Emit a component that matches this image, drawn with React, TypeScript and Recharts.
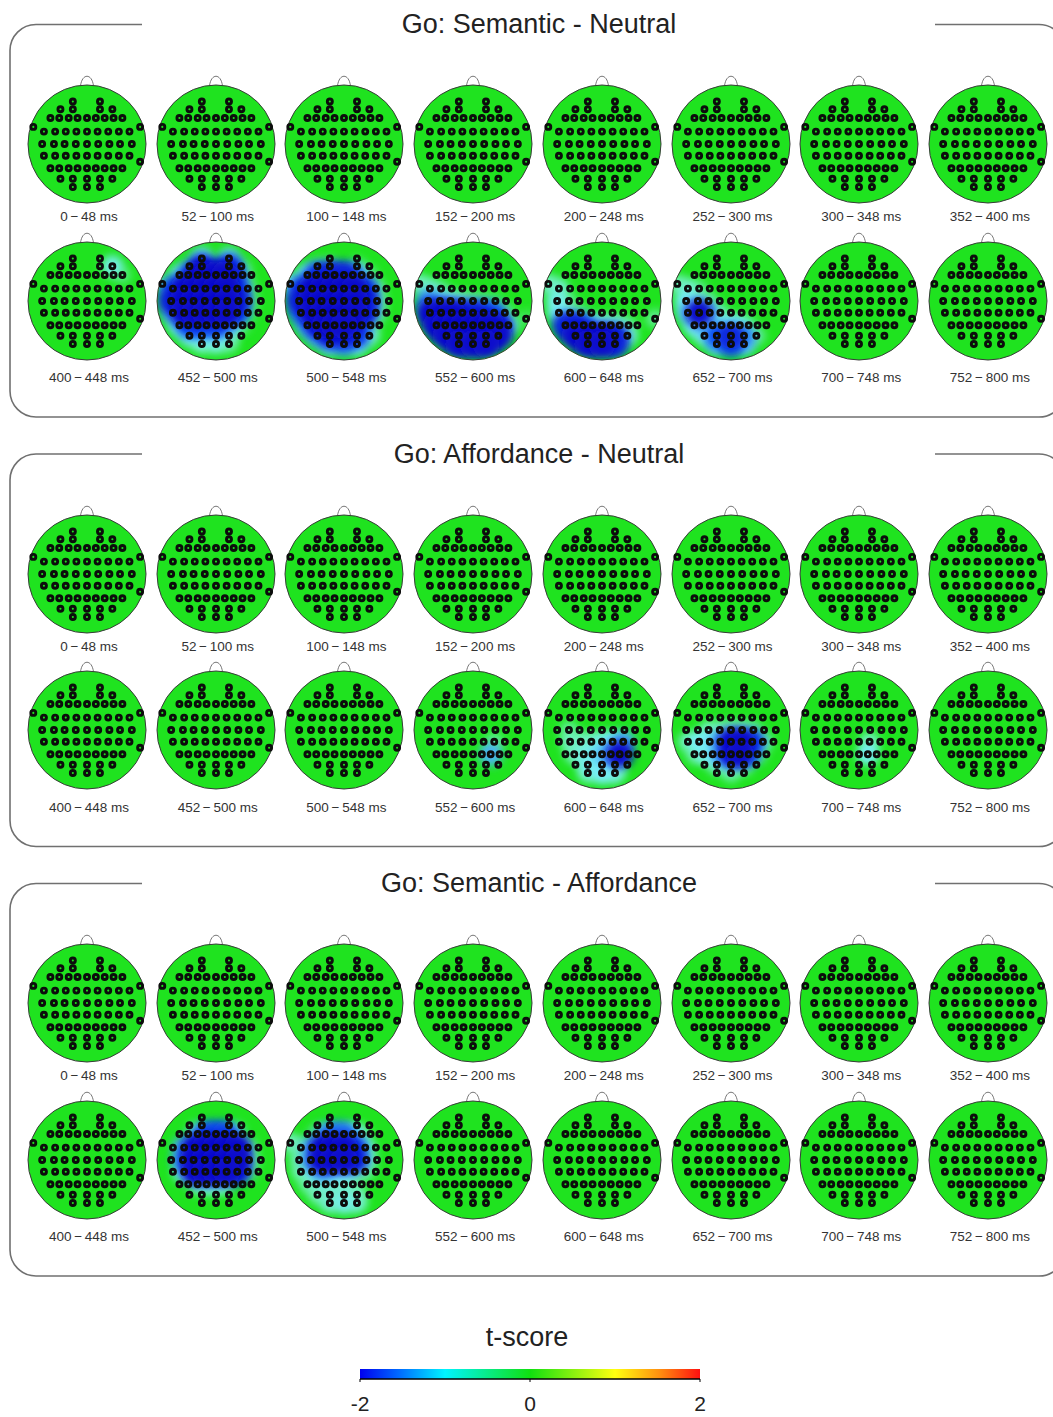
import { ScatterChart, Scatter, XAxis, YAxis, ComposedChart, ReferenceArea } from 'recharts'

type Electrode = { x: number; y: number; t: number }

const CONTRASTS = ['Go: Semantic - Neutral', 'Go: Affordance - Neutral', 'Go: Semantic - Affordance']

// 48 ms analysis windows, two rows of eight per contrast
const WINDOW_FROM = [0, 52, 100, 152, 200, 252, 300, 352, 400, 452, 500, 552, 600, 652, 700, 752]
const WINDOW_TO = [48, 100, 148, 200, 248, 300, 348, 400, 448, 500, 548, 600, 648, 700, 748, 800]

// montage in head-radius units, y grows towards the back of the head
const ROW_Y = [-0.72, -0.59, -0.44, -0.29, -0.21, 0, 0.2, 0.3, 0.41, 0.59, 0.73]
const ROW_X = [
  [-0.24, 0.22],
  [-0.45, -0.24, 0.22, 0.43],
  [-0.62, -0.47, -0.31, -0.16, 0, 0.15, 0.3, 0.45, 0.6],
  [-0.91, 0.9],
  [-0.73, -0.54, -0.36, -0.18, 0, 0.18, 0.36, 0.54, 0.72],
  [-0.76, -0.56, -0.38, -0.19, 0, 0.19, 0.38, 0.56, 0.76],
  [-0.73, -0.54, -0.36, -0.18, 0, 0.18, 0.36, 0.54, 0.72],
  [0.9],
  [-0.62, -0.47, -0.31, -0.16, 0, 0.15, 0.3, 0.45, 0.6],
  [-0.45, -0.24, 0, 0.22, 0.43],
  [-0.24, 0, 0.22],
]

// t-scores per electrode (rows follow ROW_X); windows not listed are flat
const SN_400 = [
  [0, 0],
  [0, 0, 0, -0.9],
  [0, 0, 0, 0, 0, 0, 0, 0, -0.3],
  [0, 0],
  [0, 0, 0, 0, 0, 0, 0, 0, 0],
  [0, 0, 0, 0, 0, 0, 0, 0, 0],
  [0, 0, 0, 0, 0, 0, 0, 0, 0],
  [0],
  [0, 0, 0, 0, 0, 0, 0, 0, 0],
  [0, 0, 0, 0, 0],
  [0, 0, 0],
]
const SN_452 = [
  [-1.0, -0.9],
  [-0.3, -1.8, -1.7, -0.3],
  [-0.8, -1.4, -2, -2, -2, -2, -1.6, -0.5, 0],
  [-0.4, 0],
  [-1.5, -2, -2, -2, -2, -2, -1.6, -0.4, 0],
  [-1.8, -2, -2, -2, -2, -2, -1.8, -0.4, 0],
  [-1.2, -2, -2, -2, -2, -2, -1.5, -0.3, 0],
  [0],
  [-1.0, -1.5, -1.6, -1.4, -1.6, -1.2, -0.8, -0.2, 0],
  [-0.9, -1.0, -1.0, -0.6, 0],
  [-0.6, -0.7, -0.4],
]
const SN_500 = [
  [0, 0],
  [-0.3, -0.4, -0.3, 0],
  [-1.0, -1.6, -1.8, -1.8, -1.8, -1.4, -0.8, -0.2, 0],
  [-0.9, 0],
  [-1.6, -2, -2, -2, -2, -2, -1.6, -0.5, 0],
  [-1.8, -2, -2, -2, -2, -2, -1.8, -0.6, 0],
  [-1.4, -2, -2, -2, -2, -2, -1.8, -0.6, 0],
  [0],
  [-1.2, -1.8, -2, -2, -2, -1.8, -1.2, -0.4, 0],
  [-1.2, -1.8, -1.8, -1.6, -0.7],
  [-1.1, -1.3, -1.0],
]
const SN_552 = [
  [0, 0],
  [0, 0, 0, 0],
  [0, 0, 0, 0, 0, 0, 0, 0, 0],
  [-0.6, 0],
  [-0.7, -0.3, 0, 0, 0, 0, 0, 0, 0],
  [-1.3, -1.1, -0.9, -0.6, -0.4, -0.3, -0.2, 0, 0],
  [-2, -2, -2, -1.8, -1.8, -1.6, -1.4, -0.4, 0],
  [-0.2],
  [-2, -2, -2, -2, -2, -2, -2, -1.8, -0.8],
  [-2, -2, -2, -2, -2],
  [-2, -2, -2],
]
const SN_600 = [
  [0, 0],
  [0, 0, 0, 0],
  [0, 0, 0, 0, 0, 0, 0, 0, 0],
  [-0.6, 0],
  [-0.7, 0, 0, 0, 0, 0, 0, 0, 0],
  [-0.9, -0.3, 0, 0, 0, 0, 0, 0, 0],
  [-1.0, -0.6, -0.3, 0, 0, 0, 0, 0, 0],
  [-0.4],
  [-1.8, -1.8, -1.4, -1.0, -0.8, -0.8, -0.6, -0.3, 0],
  [-2, -2, -2, -1.8, -0.8],
  [-2, -2, -1.8],
]
const SN_652 = [
  [0, 0],
  [0, 0, 0, 0],
  [0, 0, 0, 0, 0, 0, 0, 0, 0],
  [-0.5, 0],
  [-0.7, -0.3, 0, 0, 0, 0, 0, 0, 0],
  [-1.0, -0.8, -0.4, 0, 0, 0, 0, 0, 0],
  [-1.1, -2, -1.1, -0.4, 0, 0, 0, 0, 0],
  [0],
  [-1.0, -1.1, -1.0, -0.8, -1.0, -0.8, -0.3, 0, 0],
  [-0.8, -1.5, -1.8, -1.3, -0.4],
  [-1.1, -1.6, -1.1],
]
const AN_552 = [
  [0, 0],
  [0, 0, 0, 0],
  [0, 0, 0, 0, 0, 0, 0, 0, 0],
  [0, 0],
  [0, 0, 0, 0, 0, 0, 0, 0, 0],
  [0, 0, 0, 0, 0, 0, 0, 0, 0],
  [0, 0, 0, 0, 0, 0, -0.4, 0, 0],
  [0],
  [0, 0, 0, 0, 0, 0, -1.2, 0, 0],
  [0, 0, 0, 0, 0],
  [0, 0, 0],
]
const AN_600 = [
  [0, 0],
  [0, 0, 0, 0],
  [0, 0, 0, 0, 0, 0, 0, 0, 0],
  [0, 0],
  [0, 0, 0, 0, 0, 0, 0, 0, 0],
  [0, -0.4, 0, 0, 0, 0, 0, 0, 0],
  [0, -0.6, -0.6, -0.6, -0.8, -1.0, -1.2, 0, 0],
  [0],
  [0, -0.6, -0.8, -0.9, -1.1, -1.2, -2, 0, 0],
  [0, -0.9, -1.0, -0.8, 0],
  [-0.6, -1.0, -0.8],
]
const AN_652 = [
  [0, 0],
  [0, 0, 0, 0],
  [0, 0, 0, 0, 0, 0, 0, 0, 0],
  [0, 0],
  [0, 0, 0, 0, 0, 0, 0, 0, 0],
  [0, 0, -0.5, -0.5, -0.6, -0.6, -0.4, 0, 0],
  [-0.6, -1.0, -1.0, -1.2, -2, -2, -1.6, -0.6, 0],
  [0],
  [-0.4, -0.8, -1.0, -1.2, -1.8, -2, -1.4, -0.4, 0],
  [0, -0.6, -0.8, -0.6, 0],
  [0, -0.4, 0],
]
const AN_700 = [
  [0, 0],
  [0, 0, 0, 0],
  [0, 0, 0, 0, 0, 0, 0, 0, 0],
  [0, 0],
  [0, 0, 0, 0, 0, 0, 0, 0, 0],
  [0, 0, 0, 0, 0, 0, 0, 0, 0],
  [0, 0, 0, 0, 0, -0.6, 0, 0, 0],
  [0],
  [0, 0, 0, 0, 0, -1.0, 0, 0, 0],
  [0, 0, 0, 0, 0],
  [0, 0, 0],
]
const SA_452 = [
  [0, 0],
  [0, 0, 0, 0],
  [0, 0, -1.0, -1.6, -1.6, -1.6, -1.0, 0, 0],
  [0, 0],
  [0, -1.2, -2, -2, -2, -2, -2, -0.5, 0],
  [0, -1.3, -2, -2, -2, -2, -2, -0.6, 0],
  [0, -1.0, -2, -2, -2, -2, -1.8, -0.4, 0],
  [0],
  [0, 0, -0.6, -0.8, -0.8, -0.6, 0, 0, 0],
  [0, 0, 0, 0, 0],
  [0, 0, 0],
]
const SA_500 = [
  [0, 0],
  [0, 0, 0, 0],
  [0, -0.3, -1.2, -1.4, -1.4, -1.0, -0.4, 0, 0],
  [-0.6, 0],
  [-0.5, -1.2, -2, -2, -2, -1.6, -0.8, 0, 0],
  [-0.5, -1.2, -2, -2, -2, -1.8, -0.8, 0, 0],
  [-0.5, -0.8, -1.2, -1.0, -1.0, -0.6, -0.4, 0, 0],
  [0],
  [-0.4, -0.6, -0.7, -0.7, -0.6, -0.4, 0, 0, 0],
  [-0.5, -0.7, -0.7, -0.5, 0],
  [-0.7, -0.9, -0.7],
]

const MAPS: Record<number, number[][]>[] = [
  { 400: SN_400, 452: SN_452, 500: SN_500, 552: SN_552, 600: SN_600, 652: SN_652 },
  { 552: AN_552, 600: AN_600, 652: AN_652, 700: AN_700 },
  { 452: SA_452, 500: SA_500 },
]

const TSCORE_RANGE = [-2, 2]
const TSCORE_TICKS = [-2, 0, 2]

const FONT = '"Liberation Sans", Arial, sans-serif'
const GREEN = '#1fe31f'
const HEAD_R = 59
const BOX = 140
const D = BOX / 2 / HEAD_R

const T_STOPS = [-2, -1.5, -1, -0.5, 0]
const T_COLORS = ['#0808cc', '#0a58f6', '#78eef8', '#70f0b4', GREEN]

function hex(c: string) {
  return [1, 3, 5].map((i) => parseInt(c.slice(i, i + 2), 16))
}

function tColor(t: number) {
  const v = Math.max(-2, Math.min(0, t))
  let i = 0
  while (i < T_STOPS.length - 2 && v > T_STOPS[i + 1]) i++
  const f = (v - T_STOPS[i]) / (T_STOPS[i + 1] - T_STOPS[i])
  const a = hex(T_COLORS[i])
  const b = hex(T_COLORS[i + 1])
  return `rgb(${a.map((x, k) => Math.round(x + (b[k] - x) * f)).join(',')})`
}

function electrodes(values?: number[][]): Electrode[] {
  const out: Electrode[] = []
  ROW_Y.forEach((y, r) => ROW_X[r].forEach((x, c) => out.push({ x, y, t: values ? values[r][c] : 0 })))
  return out
}

const HeadShape = (p: any) => (
  <g>
    <path
      d={`M${p.cx - 6.5},${p.cy - HEAD_R + 1} C${p.cx - 5},${p.cy - HEAD_R - 12} ${p.cx + 5},${p.cy - HEAD_R - 12} ${p.cx + 6.5},${p.cy - HEAD_R + 1}`}
      fill="#fff"
      stroke="#777"
      strokeWidth={1}
    />
    <circle cx={p.cx} cy={p.cy} r={HEAD_R} fill={GREEN} />
  </g>
)

const OutlineShape = (p: any) => (
  <circle cx={p.cx} cy={p.cy} r={HEAD_R} fill="none" stroke="#3a3a3a" strokeWidth={1} />
)

const FieldShape = (p: any) => (
  <circle
    cx={p.cx}
    cy={p.cy}
    r={8 + 3 * Math.abs(p.payload.t)}
    fill={tColor(p.payload.t)}
    filter="url(#topoBlur)"
    clipPath="url(#topoClip)"
  />
)

const ElectrodeShape = (p: any) => (
  <circle cx={p.cx} cy={p.cy} r={2.5} fill="none" stroke="#0c0c0c" strokeWidth={2.9} />
)

function Topo({ values }: { values?: number[][] }) {
  const all = electrodes(values)
  const field = all.filter((e) => e.t < -0.1).sort((a, b) => b.t - a.t)
  return (
    <ScatterChart width={BOX} height={BOX} margin={{ top: 0, right: 0, bottom: 0, left: 0 }}>
      <XAxis type="number" dataKey="x" domain={[-D, D]} allowDataOverflow hide />
      <YAxis type="number" dataKey="y" domain={[-D, D]} allowDataOverflow reversed hide />
      <Scatter data={[{ x: 0, y: 0 }]} shape={HeadShape} isAnimationActive={false} />
      <Scatter data={field} shape={FieldShape} isAnimationActive={false} />
      <Scatter data={[{ x: 0, y: 0 }]} shape={OutlineShape} isAnimationActive={false} />
      <Scatter data={all} shape={ElectrodeShape} isAnimationActive={false} />
    </ScatterChart>
  )
}

const PANEL_DY = 429.5
const PANEL_TOP = 24.5
const PANEL_BOTTOM = 417
const FRAME_L = 10
const FRAME_R = 1065
const CORNER = 26
const COL_X0 = 87
const COL_DX = 128.7
const ROW_CY = [144, 300.5]
const LABEL_Y = [217, 378]

function framePath(p: number) {
  const t = PANEL_TOP + p * PANEL_DY
  const b = PANEL_BOTTOM + p * PANEL_DY
  const r = CORNER
  return (
    `M142,${t} H${FRAME_L + r} A${r},${r} 0 0 0 ${FRAME_L},${t + r} V${b - r} ` +
    `A${r},${r} 0 0 0 ${FRAME_L + r},${b} H${FRAME_R - r} A${r},${r} 0 0 0 ${FRAME_R},${b - r} ` +
    `V${t + r} A${r},${r} 0 0 0 ${FRAME_R - r},${t} H935`
  )
}

export default function App() {
  return (
    <div
      style={{
        position: 'absolute',
        left: 0,
        top: 0,
        width: 1053,
        height: 1417,
        background: '#fff',
        overflow: 'hidden',
        fontFamily: FONT,
      }}
    >
      <svg width={0} height={0} style={{ position: 'absolute' }}>
        <defs>
          <filter id="topoBlur" x="-60%" y="-60%" width="220%" height="220%">
            <feGaussianBlur stdDeviation={4} />
          </filter>
          <clipPath id="topoClip">
            <circle cx={BOX / 2} cy={BOX / 2} r={HEAD_R - 0.5} />
          </clipPath>
        </defs>
      </svg>

      <svg width={1053} height={1417} style={{ position: 'absolute', left: 0, top: 0 }}>
        {CONTRASTS.map((_, p) => (
          <path key={p} d={framePath(p)} fill="none" stroke="#707070" strokeWidth={1.6} />
        ))}
      </svg>

      {CONTRASTS.map((title, p) => (
        <div key={title}>
          <div
            style={{
              position: 'absolute',
              left: 239,
              width: 600,
              top: PANEL_TOP + p * PANEL_DY - 13.5,
              fontSize: 27,
              lineHeight: '27px',
              textAlign: 'center',
              color: '#222',
            }}
          >
            {title}
          </div>
          {WINDOW_FROM.map((from, w) => {
            const row = Math.floor(w / 8)
            const col = w % 8
            const cx = COL_X0 + col * COL_DX
            const cy = ROW_CY[row] + p * PANEL_DY
            return (
              <div key={from}>
                <div style={{ position: 'absolute', left: cx - BOX / 2, top: cy - BOX / 2 }}>
                  <Topo values={MAPS[p][from]} />
                </div>
                <div
                  style={{
                    position: 'absolute',
                    left: cx - 58,
                    width: 120,
                    top: LABEL_Y[row] + p * PANEL_DY - 7,
                    fontSize: 13.5,
                    lineHeight: '14px',
                    textAlign: 'center',
                    color: '#333',
                  }}
                >
                  {`${from}\u2009\u2212\u2009${WINDOW_TO[w]} ms`}
                </div>
              </div>
            )
          })}
        </div>
      ))}

      <div
        style={{
          position: 'absolute',
          left: 377,
          width: 300,
          top: 1324,
          fontSize: 27,
          lineHeight: '27px',
          textAlign: 'center',
          color: '#222',
        }}
      >
        t-score
      </div>
      <div style={{ position: 'absolute', left: 330, top: 1360 }}>
        <ComposedChart
          width={400}
          height={59}
          data={TSCORE_TICKS.map((t, i) => ({ t, v: i / 2 }))}
          margin={{ top: 9, right: 30, bottom: 0, left: 30 }}
        >
          <defs>
            <linearGradient id="jetGrad" x1="0" y1="0" x2="1" y2="0">
              <stop offset="0%" stopColor="#0000f0" />
              <stop offset="12%" stopColor="#0070ff" />
              <stop offset="25%" stopColor="#00f4ff" />
              <stop offset="50%" stopColor="#10e010" />
              <stop offset="75%" stopColor="#ffff10" />
              <stop offset="88%" stopColor="#ff9010" />
              <stop offset="100%" stopColor="#ff1010" />
            </linearGradient>
          </defs>
          <XAxis
            type="number"
            dataKey="t"
            domain={TSCORE_RANGE}
            ticks={TSCORE_TICKS}
            allowDataOverflow
            height={40}
            axisLine={{ stroke: '#000', strokeWidth: 1.5 }}
            tickLine={{ stroke: '#000' }}
            tickSize={3}
            tickMargin={14}
            tick={{ fontSize: 21, fill: '#222', fontFamily: FONT }}
          />
          <YAxis type="number" dataKey="v" domain={[0, 1]} allowDataOverflow hide />
          <ReferenceArea
            x1={TSCORE_RANGE[0]}
            x2={TSCORE_RANGE[1]}
            y1={0}
            y2={1}
            ifOverflow="visible"
            fill="url(#jetGrad)"
            fillOpacity={1}
            stroke="none"
          />
        </ComposedChart>
      </div>
    </div>
  )
}
